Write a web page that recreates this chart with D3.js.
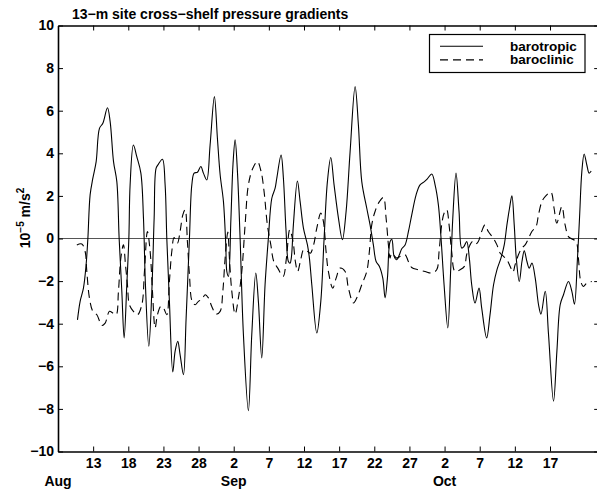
<!DOCTYPE html>
<html>
<head>
<meta charset="utf-8">
<script src="https://cdn.jsdelivr.net/npm/d3@7"></script>
<style>
  html, body { margin: 0; padding: 0; background: #fff; }
  svg { display: block; }
  text { font-family: "Liberation Sans", Arial, Helvetica, sans-serif; font-weight: bold; fill: #000; }
</style>
</head>
<body>
<svg id="chart" width="597" height="489"></svg>
<script>
// ---- data (day numbers counted from Aug 0: Aug 13 = 13, Sep 2 = 33, Oct 2 = 63) ----
const barotropicDays = [10.77,11.15,11.62,12.0,12.25,12.57,12.96,13.43,13.9,14.38,15.04,15.42,15.9,16.37,16.7,17.08,17.41,17.79,18.08,18.26,18.73,19.21,19.79,20.16,20.44,20.92,21.35,21.68,21.96,22.29,22.86,23.24,23.48,23.85,24.33,24.66,25.04,25.37,25.85,26.23,26.7,27.04,27.37,27.84,28.32,28.69,29.17,29.64,30.25,30.68,31.07,31.54,31.87,32.02,32.25,32.6,32.9,33.2,33.53,33.91,34.38,35.09,35.57,36.14,36.51,36.99,37.46,37.93,38.42,38.89,39.13,39.74,40.07,40.45,40.78,41.02,41.2,41.49,42.06,42.45,42.92,43.49,43.77,44.11,44.82,45.39,45.86,46.33,46.81,47.28,47.9,48.46,48.99,49.56,50.27,50.74,51.22,51.93,52.4,52.87,53.26,53.73,54.21,54.54,54.87,55.25,55.5,55.82,56.2,56.57,56.91,57.38,57.86,58.33,58.95,59.51,60.13,60.55,61.18,61.65,62.12,62.5,62.93,63.46,63.88,64.17,64.63,65.06,65.44,65.77,66.15,66.52,66.86,67.33,67.9,68.28,68.99,69.46,69.97,70.45,71.02,71.49,71.87,72.24,72.58,72.91,73.2,73.63,74.01,74.34,74.72,75.05,75.43,75.9,76.37,76.71,77.32,77.79,78.5,78.98,79.45,79.92,80.63,81.11,81.48,81.91,82.2,82.53,82.86,83.24,83.57,83.86];
const barotropicValues = [-3.82,-2.95,-2.33,-1.23,0,2.05,2.83,3.61,5.17,5.41,6.14,5.49,3.61,2.67,0,-2.48,-4.67,-2.17,0,2.52,4.39,3.84,3.07,0.96,-2.17,-5.06,-2.48,0.96,3.3,3.49,3.72,2.52,0,-2.95,-6.27,-5.3,-4.83,-5.45,-6.39,-3.73,0,2.52,3.07,3.11,3.38,3.07,2.75,4.39,6.66,4.71,2.99,1.73,-0.3,-1.55,-1.78,0.9,3.5,4.63,3.14,0,-4.51,-8.08,-4.51,-1.62,-2.95,-5.61,-2.17,0,1.89,2.36,2.83,3.92,2.83,0.33,-1.08,-1.16,-0.9,0.64,2.7,1.73,0.49,-0.3,-0.92,-2.17,-4.44,-2.95,0,2.67,3.8,2.52,0.96,-0.06,1.27,4.08,7.13,5.33,2.67,1.42,0.64,-0.3,-1.08,-1.31,-1.86,-2.79,-1.86,-0.14,-0.05,-0.84,-1.0,-0.76,-0.48,-0.3,0.33,1.11,2.05,2.52,2.67,2.8,3.03,2.52,1.58,0,-2.17,-4.2,-1.39,0.96,3.07,1.27,-0.45,-0.37,-0.14,-0.92,-2.17,-3.03,-2.33,-3.26,-4.67,-3.6,-2.17,-1.47,-0.92,-0.3,0.64,1.42,2.0,0.64,-0.92,-2.02,-1.08,-0.58,-1.08,-1.39,-1.15,-1.86,-3.11,-3.55,-2.48,-4.51,-7.64,-5.3,-3.11,-2.64,-2.02,-2.48,-3.08,-0.92,0.96,3.14,3.97,3.45,3.07,3.17];

const baroclinicDays = [10.68,11.39,11.86,12.1,12.47,12.96,13.53,14.24,14.71,15.32,15.8,16.27,16.6,16.94,17.31,17.6,17.88,18.16,18.73,19.3,19.93,20.3,20.72,21.11,21.44,21.82,22.15,22.63,23.0,23.48,23.85,24.19,24.52,24.99,25.37,25.76,26.09,26.41,26.7,27.08,27.51,27.98,28.46,28.93,29.4,29.88,30.5,31.07,31.45,31.78,32.16,32.39,32.73,33.2,33.67,34.15,34.62,35.09,35.72,36.37,36.9,37.32,37.79,38.28,38.7,39.27,40.03,40.5,40.97,41.44,41.77,42.1,42.58,42.95,43.52,43.9,44.37,44.82,45.39,45.76,46.14,46.47,47.09,47.57,48.14,48.85,49.32,50.03,50.6,51.22,51.93,52.3,52.64,53.11,53.73,54.3,54.68,55.01,55.25,55.45,55.72,56.19,56.67,57.38,57.85,58.32,59.27,60.22,61.16,61.88,62.22,62.59,62.93,63.3,63.64,64.01,64.49,65.2,65.82,66.14,66.62,66.99,67.42,67.8,68.27,68.75,69.22,69.97,70.45,70.92,71.39,71.87,72.34,72.72,73.04,73.51,73.99,74.46,74.94,75.42,76.02,76.36,76.84,77.31,78.12,78.58,78.97,79.68,80.15,80.62,81.1,81.71,82.04,82.38,82.75,83.24,83.95];
const baroclinicValues = [-0.3,-0.26,-0.61,-1.55,-2.79,-3.42,-3.58,-4.08,-3.97,-3.42,-3.5,-3.58,-2.48,-0.92,-0.3,-1.23,-2.17,-3.11,-3.42,-3.58,-3.11,-1.55,0.33,-0.61,-2.48,-4.2,-3.58,-3.19,-3.26,-3.58,-2.02,-0.61,0.05,-0.22,0.33,1.11,1.35,-0.14,-1.7,-2.95,-3.11,-2.95,-2.87,-2.64,-2.79,-3.19,-3.55,-3.42,-2.48,-0.92,0.3,-0.92,-2.48,-3.55,-2.79,-1.55,0.64,2.52,3.3,3.61,3.14,2.2,0.64,-0.3,-1.08,-1.39,-1.78,-0.92,0.41,-0.14,-1.08,-1.55,-0.92,-0.53,-0.61,-0.69,-0.3,0.49,1.19,0.8,-0.61,-1.55,-2.33,-1.86,-1.39,-1.55,-2.33,-3.03,-2.72,-2.17,-1.55,-0.61,0.64,1.27,1.73,1.92,0.96,-0.3,-0.92,-0.7,-0.76,-0.92,-0.84,-0.76,-1.08,-1.36,-1.47,-1.55,-1.62,-1.47,-0.61,0.64,1.19,1.35,0.64,-0.61,-1.55,-1.47,-1.31,-0.76,-0.3,-0.14,-0.26,-0.14,0.33,0.64,0.33,0,-0.3,-0.69,-0.84,-1.0,-1.31,-1.58,-1.23,-0.76,-0.45,-0.3,0,0.33,0.56,1.11,1.73,1.97,2.17,1.42,0.72,1.5,0.64,0.09,-0.02,-0.14,-0.92,-2.02,-2.25,-2.09,-2.02];

const seriesNames = ["barotropic", "baroclinic"];
const xDomainDays = [8, 85];
const yDomain = [-10, 10];
const yTicks = [-10, -8, -6, -4, -2, 0, 2, 4, 6, 8, 10];
const xTickDays = [13, 18, 23, 28, 33, 38, 43, 48, 53, 58, 63, 68, 73, 78];
const xTickLabels = ["13", "18", "23", "28", "2", "7", "12", "17", "22", "27", "2", "7", "12", "17"];
const monthLabels = ["Aug", "Sep", "Oct"];
const monthLabelDays = [8, 33, 63];
const titleText = "13\u2212m site cross\u2212shelf pressure gradients";

// ---- helpers ----
const base = Date.UTC(1996, 6, 31); // "Aug 0"
const dayToDate = d => new Date(base + d * 864e5);

const svg = d3.select("#chart");
const L = 58, R = 599.2, T = 25.5, B = 451.5;
const FS = 14;

const x = d3.scaleUtc().domain(xDomainDays.map(dayToDate)).range([L, R]);
const y = d3.scaleLinear().domain(yDomain).range([B, T]);

svg.append("defs").append("clipPath").attr("id", "plotclip")
  .append("rect").attr("x", L).attr("y", T).attr("width", R - L).attr("height", B - T);

// zero line
svg.append("line")
  .attr("x1", L).attr("x2", R).attr("y1", y(0)).attr("y2", y(0))
  .attr("stroke", "#555").attr("stroke-width", 1.2);

// data lines
const lineGen = d3.line()
  .x(d => x(dayToDate(d[0])))
  .y(d => y(d[1]))
  .curve(d3.curveCatmullRom.alpha(0.5));

const g = svg.append("g").attr("clip-path", "url(#plotclip)");
g.append("path")
  .attr("d", lineGen(d3.zip(barotropicDays, barotropicValues)))
  .attr("fill", "none").attr("stroke", "#000").attr("stroke-width", 1.1);
g.append("path")
  .attr("d", lineGen(d3.zip(baroclinicDays, baroclinicValues)))
  .attr("fill", "none").attr("stroke", "#000").attr("stroke-width", 1.1)
  .attr("stroke-dasharray", "8,5");

// axes
const tickDates = xTickDays.map(dayToDate);
const fmtX = (d, i) => xTickLabels[i];
const fmtY = d => d < 0 ? "\u2212" + Math.abs(d) : String(d);

const axB = svg.append("g").attr("transform", `translate(0,${B})`)
  .call(d3.axisBottom(x).tickValues(tickDates).tickFormat(fmtX).tickSizeInner(-5).tickSizeOuter(0).tickPadding(7));
const axT = svg.append("g").attr("transform", `translate(0,${T})`)
  .call(d3.axisTop(x).tickValues(tickDates).tickFormat("").tickSizeInner(-5).tickSizeOuter(0));
const axL = svg.append("g").attr("transform", `translate(${L},0)`)
  .call(d3.axisLeft(y).tickValues(yTicks).tickFormat(fmtY).tickSizeInner(-5).tickSizeOuter(0).tickPadding(4));
const axR = svg.append("g").attr("transform", `translate(${R},0)`)
  .call(d3.axisRight(y).tickValues(yTicks).tickFormat("").tickSizeInner(-5).tickSizeOuter(0));

[axB, axT, axL, axR].forEach(a => {
  a.selectAll("path.domain").attr("stroke", "#000").attr("stroke-width", 1.6);
  a.selectAll(".tick line").attr("stroke", "#000").attr("stroke-width", 1);
  a.selectAll("text").attr("font-size", FS).attr("font-family", null).attr("fill", "#000");
});

// month labels
svg.append("g").selectAll("text").data(monthLabels).join("text")
  .attr("x", (d, i) => x(dayToDate(monthLabelDays[i])))
  .attr("y", 485.5)
  .attr("text-anchor", "middle")
  .attr("font-size", FS)
  .text(d => d);

// title
svg.append("text").attr("x", 72).attr("y", 19.3).attr("font-size", FS).text(titleText);

// y label
const yl = svg.append("text")
  .attr("transform", `translate(30,218) rotate(-90)`)
  .attr("text-anchor", "middle")
  .attr("font-size", FS);
yl.append("tspan").text("10");
yl.append("tspan").attr("font-size", 10).attr("dy", -6).text("\u22125");
yl.append("tspan").attr("dy", 6).text(" m/s");
yl.append("tspan").attr("font-size", 10).attr("dy", -6).text("2");

// legend
const LFS = 13.5;
const lg = svg.append("g");
lg.append("rect").attr("x", 429.5).attr("y", 34.5).attr("width", 155.5).attr("height", 38)
  .attr("fill", "#fff").attr("stroke", "#000").attr("stroke-width", 1.2);
const legendRows = [{ name: seriesNames[0], dash: null }, { name: seriesNames[1], dash: "8,5" }];
legendRows.forEach((r, i) => {
  const yy = 46.3 + i * 13.6;
  lg.append("line").attr("x1", 440).attr("x2", 483).attr("y1", yy).attr("y2", yy)
    .attr("stroke", "#000").attr("stroke-width", 1.1).attr("stroke-dasharray", r.dash);
  lg.append("text").attr("x", 510).attr("y", yy + 4.5).attr("font-size", LFS).text(r.name);
});
</script>
</body>
</html>
